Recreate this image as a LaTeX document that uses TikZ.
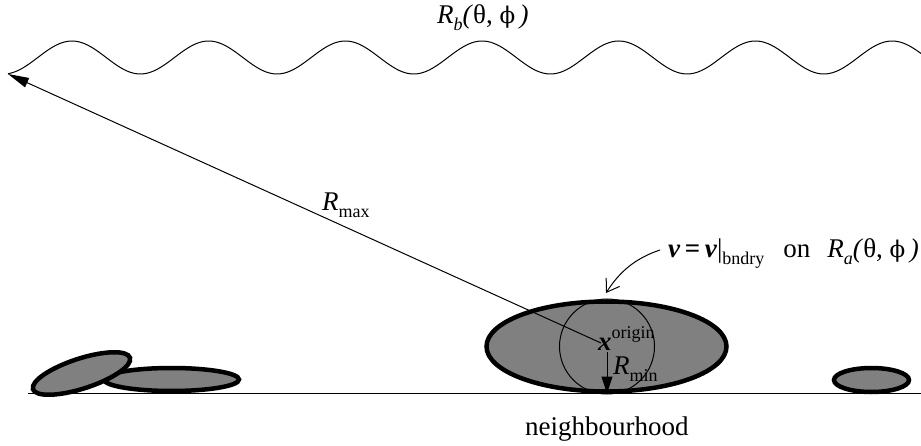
\documentclass[tikz,border=0pt]{standalone}
\usepackage{fontspec}
\setmainfont{Liberation Serif}
\newfontfamily\phifont{DejaVu Serif}
\usetikzlibrary{arrows.meta}
\definecolor{blobgray}{gray}{0.5}
\newcommand{\mysub}[1]{\raisebox{-7pt}{\fontsize{18}{18}\selectfont #1}}
\newcommand{\mysup}[1]{\raisebox{12pt}{\fontsize{18}{18}\selectfont #1}}
\newcommand{\myphi}{{\phifont\fontsize{23}{27}\selectfont ϕ}}
\begin{document}
\begin{tikzpicture}[x=1pt,y=-1pt,
  lbl/.style={inner sep=0pt, anchor=base west, font=\fontsize{27}{32}\selectfont},
  blob/.style={draw=black, line width=4.5pt, fill=blobgray},
  thinline/.style={line width=1pt},
  groundline/.style={line width=1.3pt}
]
\useasboundingbox (0,0) rectangle (921,446);
% coordinates
\coordinate (gl) at (28,393.5);
\coordinate (gr) at (921,393.5);
\coordinate (O) at (601,343);
\coordinate (tip) at (8,74);
\coordinate (mintop) at (607,352);
\coordinate (minbot) at (607,393.5);
\coordinate (bcstart) at (660,250);
\coordinate (bcend) at (606,293);
% ground
\draw[groundline] (gl) -- (gr);
% outer boundary
\draw[thinline] plot[domain=8:921, samples=300, smooth] (\x, {57.5 - 16.5*sin(2.6335*(\x-37.8))});
% particles
\draw[blob] (171.5,379.5) ellipse [x radius=67.5, y radius=11.5];
\draw[blob, rotate around={18:(81.5,373.5)}] (81.5,373.5) ellipse [x radius=51, y radius=15];
\draw[blob] (871.5,380) ellipse [x radius=37.5, y radius=12];
\draw[blob] (606.5,346.5) ellipse [x radius=120, y radius=45];
\draw[thinline] (607,346.5) circle [radius=47.5];
% arrows
\draw[thinline, -{Triangle[length=21pt, width=10pt]}] (O) -- (tip);
\draw[thinline, -{Triangle[length=17pt, width=11pt]}] (mintop) -- (minbot);
\draw[thinline, -{Straight Barb[length=12pt, width=16pt]}] (bcstart) .. controls (636,258) and (620,271) .. (bcend);
% labels
\node[lbl] (rb) at (437,24) {\textit{R}\mysub{\textit{b}}\textit{(}θ, \myphi\,\textit{)}};
\node[lbl] (rmax) at (322,211) {\textit{R}\mysub{max}};
\node[lbl] (xo) at (598,350) {\textbf{\textit{x}}\mysup{origin}};
\node[lbl] (rmin) at (613,374) {\textit{R}\mysub{min}};
\node[lbl] (nb) at (525,435) {neighbourhood};
\node[lbl] (bc) at (668,258) {\textbf{\textit{v}}\,\textbf{=}\,\textbf{\textit{v}}|\mysub{bndry}\hspace{19pt}on\hspace{17pt}\textit{R}\mysub{\textit{a}}\textit{(}θ, \myphi\,\textit{)}};
\end{tikzpicture}
\end{document}
